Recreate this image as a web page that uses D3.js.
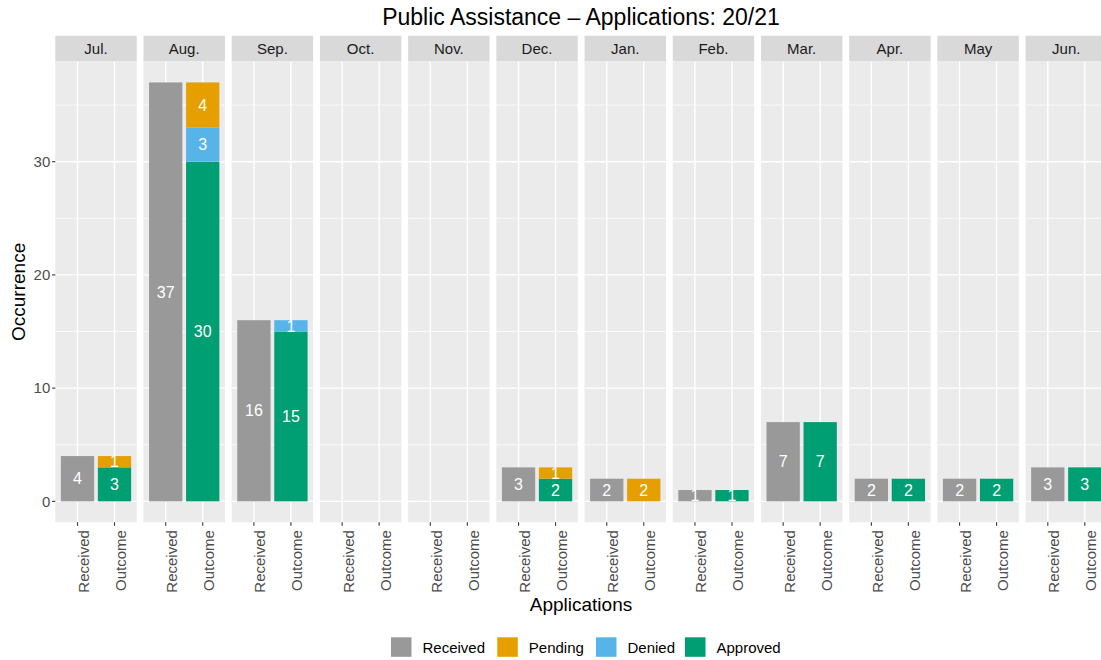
<!DOCTYPE html>
<html>
<head>
<meta charset="utf-8">
<script src="https://cdn.jsdelivr.net/npm/d3@7"></script>
<style>
  html, body { margin: 0; padding: 0; background: #fff; }
  svg { display: block; font-family: "Liberation Sans", Arial, sans-serif; }
</style>
</head>
<body>
<svg id="chart" width="1101" height="660"></svg>
<script>
// ---- Data ----
const months = ["Jul.", "Aug.", "Sep.", "Oct.", "Nov.", "Dec.", "Jan.", "Feb.", "Mar.", "Apr.", "May", "Jun."];
const applicationTypes = ["Received", "Outcome"];
const received = [4, 37, 16, 0, 0, 3, 2, 1, 7, 2, 2, 3];
const approved = [3, 30, 15, 0, 0, 2, 0, 1, 7, 2, 2, 3];
const denied   = [0, 3, 1, 0, 0, 0, 0, 0, 0, 0, 0, 0];
const pending  = [1, 4, 0, 0, 0, 1, 2, 0, 0, 0, 0, 0];
const statuses = ["Received", "Pending", "Denied", "Approved"];
const statusColors = ["#999999", "#E69F00", "#56B4E9", "#009E73"];
const yTicks = [0, 10, 20, 30];
const yMinor = [5, 15, 25, 35];
const titleText = "Public Assistance \u2013 Applications: 20/21";

// ---- Layout ----
const svg = d3.select("#chart");
const panelTop = 61.5, panelBottom = 522.3;
const stripTop = 35.7;
const color = d3.scaleOrdinal().domain(statuses).range(statusColors);

const yMax = d3.max(received.map((r, i) => Math.max(r, approved[i] + denied[i] + pending[i])));
const yPad = yMax * 0.05;
const y = d3.scaleLinear().domain([-yPad, yMax + yPad]).range([panelBottom, panelTop]);

const fx = d3.scaleBand().domain(months).range([55.3, 1107]).paddingInner(0.077).paddingOuter(0);
const pw = fx.bandwidth();
const xi = d3.scaleBand().domain(applicationTypes).range([0, pw]).paddingInner(0.1).paddingOuter(0.15);

// Build stacked segments
const segs = [];
months.forEach((m, i) => {
  if (received[i] > 0) segs.push({month: m, type: "Received", status: "Received", y0: 0, y1: received[i], v: received[i]});
  let base = 0;
  [["Approved", approved[i]], ["Denied", denied[i]], ["Pending", pending[i]]].forEach(([s, v]) => {
    if (v > 0) { segs.push({month: m, type: "Outcome", status: s, y0: base, y1: base + v, v}); base += v; }
  });
});

// Title
svg.append("text").attr("x", 581).attr("y", 25).attr("text-anchor", "middle")
  .attr("font-size", 23).attr("fill", "#000").text(titleText);

const panels = svg.selectAll("g.panel").data(months).join("g")
  .attr("class", "panel").attr("transform", d => `translate(${fx(d)},0)`);

// Strip
panels.append("rect").attr("x", 0).attr("y", stripTop).attr("width", pw).attr("height", panelTop - stripTop).attr("fill", "#D9D9D9");
panels.append("text").attr("x", pw / 2).attr("y", (stripTop + panelTop) / 2 + 5.2)
  .attr("text-anchor", "middle").attr("font-size", 15).attr("fill", "#1A1A1A").text(d => d);

// Panel background
panels.append("rect").attr("x", 0).attr("y", panelTop).attr("width", pw).attr("height", panelBottom - panelTop).attr("fill", "#EBEBEB");

// Grid
panels.each(function() {
  const g = d3.select(this);
  g.selectAll("line.minor").data(yMinor).join("line").attr("class", "minor")
    .attr("x1", 0).attr("x2", pw).attr("y1", d => y(d)).attr("y2", d => y(d))
    .attr("stroke", "#fff").attr("stroke-width", 0.7);
  g.selectAll("line.major").data(yTicks).join("line").attr("class", "major")
    .attr("x1", 0).attr("x2", pw).attr("y1", d => y(d)).attr("y2", d => y(d))
    .attr("stroke", "#fff").attr("stroke-width", 1.4);
  g.selectAll("line.vmajor").data(applicationTypes).join("line").attr("class", "vmajor")
    .attr("x1", d => xi(d) + xi.bandwidth() / 2).attr("x2", d => xi(d) + xi.bandwidth() / 2)
    .attr("y1", panelTop).attr("y2", panelBottom)
    .attr("stroke", "#fff").attr("stroke-width", 1.4);
});

// Bars
panels.each(function(m) {
  const g = d3.select(this);
  const ds = segs.filter(s => s.month === m);
  g.selectAll("rect.bar").data(ds).join("rect").attr("class", "bar")
    .attr("x", d => xi(d.type)).attr("width", xi.bandwidth())
    .attr("y", d => y(d.y1)).attr("height", d => y(d.y0) - y(d.y1))
    .attr("fill", d => color(d.status));
  g.selectAll("text.lab").data(ds).join("text").attr("class", "lab")
    .attr("x", d => xi(d.type) + xi.bandwidth() / 2)
    .attr("y", d => y((d.y0 + d.y1) / 2) + 5.7)
    .attr("text-anchor", "middle").attr("font-size", 16).attr("fill", "#fff")
    .text(d => d.v);
  // bottom axis ticks and labels
  const ax = g.append("g").attr("transform", `translate(0,${panelBottom})`);
  applicationTypes.forEach(t => {
    const cx = xi(t) + xi.bandwidth() / 2;
    ax.append("line").attr("x1", cx).attr("x2", cx).attr("y1", 0).attr("y2", 3.5)
      .attr("stroke", "#333").attr("stroke-width", 1.1);
    ax.append("text").attr("transform", `translate(${cx + 11.5},7.8) rotate(-90)`)
      .attr("text-anchor", "end").attr("font-size", 15).attr("fill", "#4D4D4D").text(t);
  });
});

// Y axis
const yAxisG = svg.append("g");
const x0 = fx(months[0]);
yTicks.forEach(t => {
  yAxisG.append("line").attr("x1", x0 - 3.2).attr("x2", x0).attr("y1", y(t)).attr("y2", y(t))
    .attr("stroke", "#333").attr("stroke-width", 1.1);
  yAxisG.append("text").attr("x", x0 - 5).attr("y", y(t) + 5.2).attr("text-anchor", "end")
    .attr("font-size", 15).attr("fill", "#4D4D4D").text(t);
});

// Axis titles
svg.append("text").attr("transform", `translate(25,${(panelTop + panelBottom) / 2}) rotate(-90)`)
  .attr("text-anchor", "middle").attr("font-size", 19).attr("fill", "#000").text("Occurrence");
svg.append("text").attr("x", 581).attr("y", 611).attr("text-anchor", "middle")
  .attr("font-size", 19).attr("fill", "#000").text("Applications");

// Legend
const legendX = [391, 497.3, 596, 685];
const leg = svg.append("g");
statuses.forEach((s, i) => {
  leg.append("rect").attr("x", legendX[i]).attr("y", 637.3).attr("width", 20.5).attr("height", 19.5).attr("fill", color(s));
  leg.append("text").attr("x", legendX[i] + 31.5).attr("y", 652.5).attr("font-size", 15).attr("fill", "#000").text(s);
});
</script>
</body>
</html>
